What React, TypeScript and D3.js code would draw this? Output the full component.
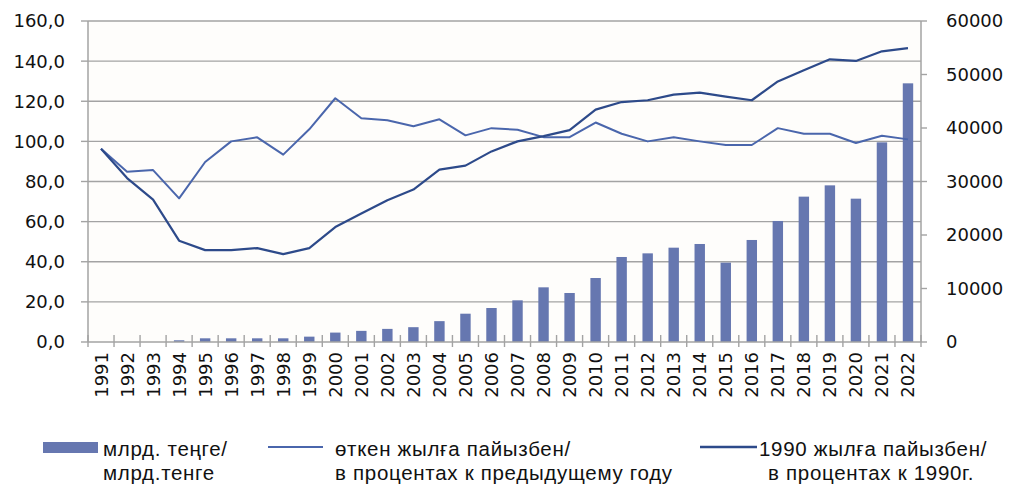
import React from "react";
import * as d3 from "d3";

const years = [
  "1991","1992","1993","1994","1995","1996","1997","1998","1999","2000",
  "2001","2002","2003","2004","2005","2006","2007","2008","2009","2010",
  "2011","2012","2013","2014","2015","2016","2017","2018","2019","2020",
  "2021","2022",
];

// bars: млрд. теңге (right axis)
const volume = [
  0, 0, 0, 320, 690, 690, 690, 690, 1000, 1760,
  2080, 2450, 2770, 3900, 5290, 6355, 7790, 10220, 9160, 11960,
  15890, 16570, 17630, 18320, 14830, 19070, 22620, 27170, 29280, 26790,
  37320, 48350,
];

// line: в процентах к предыдущему году (left axis)
const prevYear = [
  96.3, 84.9, 85.7, 71.6, 89.7, 100.0, 102.0, 93.4, 106.0, 121.5,
  111.5, 110.5, 107.5, 111.0, 103.0, 106.6, 105.8, 102.1, 102.1, 109.4,
  103.8, 100.0, 102.0, 100.0, 98.2, 98.2, 106.6, 103.8, 103.8, 99.2,
  102.8, 101.0,
];

// line: в процентах к 1990г. (left axis)
const to1990 = [
  96.3, 81.7, 71.0, 50.5, 45.8, 45.8, 46.8, 43.8, 46.8, 57.3,
  64.0, 70.7, 76.0, 85.9, 87.9, 95.0, 100.0, 102.6, 105.6, 115.8,
  119.6, 120.5, 123.3, 124.3, 122.3, 120.5, 129.9, 135.5, 140.9, 140.1,
  144.9, 146.5,
];

const leftTicks = [0, 20, 40, 60, 80, 100, 120, 140, 160];
const rightTicks = [0, 10000, 20000, 30000, 40000, 50000, 60000];

const legendBar = ["млрд. теңге/", "млрд.тенге"];
const legendPrev = ["өткен жылға пайызбен/", "в процентах к предыдущему году"];
const legend1990 = ["1990 жылға пайызбен/", "в процентах к 1990г."];

const W = 1009;
const H = 487;
const X0 = 88;
const X1 = 921;
const Y0 = 342;
const Y1 = 21;

const BAR = "#6677B0";
const LINE_A = "#4A66AC";
const LINE_B = "#2D4A8A";
const GRID = "#A3A3A3";
const AXIS_FONT = "'DejaVu Sans', Verdana, sans-serif";
const LEG_FONT = "'Liberation Sans', Arial, sans-serif";
const LEG_SIZE = 20.5;
const LEG_SPACING = 0.7;

export default function App() {
  const x = d3.scaleBand<string>().domain(years).range([X0, X1]).padding(0);
  const bw = x.bandwidth();
  const yL = d3.scaleLinear().domain([0, 160]).range([Y0, Y1]);
  const yR = d3.scaleLinear().domain([0, 60000]).range([Y0, Y1]);
  const cx = (y: string) => (x(y) as number) + bw / 2;

  const lineL = d3
    .line<number>()
    .x((_, i) => cx(years[i]))
    .y((v) => yL(v));

  const barW = bw * 0.4;
  const fmtL = (v: number) => v.toFixed(1).replace(".", ",");

  return (
    <svg
      width={W}
      height={H}
      style={{ position: "absolute", left: 0, top: 0, background: "#fff" }}
    >
      <rect x={X0} y={Y1} width={X1 - X0} height={Y0 - Y1} fill="#FEFDFB" />
      {/* gridlines */}
      {leftTicks.slice(1).map((t) => (
        <line key={"g" + t} x1={X0} x2={X1} y1={yL(t)} y2={yL(t)} stroke={GRID} strokeWidth={1.4} />
      ))}
      {/* bars */}
      {volume.map((v, i) => (
        <rect
          key={"b" + i}
          x={cx(years[i]) - barW / 2}
          y={yR(v)}
          width={barW}
          height={Y0 - yR(v)}
          fill={BAR}
        />
      ))}
      {/* lines */}
      <path d={lineL(prevYear) as string} fill="none" stroke={LINE_A} strokeWidth={2} strokeLinejoin="round" />
      <path d={lineL(to1990) as string} fill="none" stroke={LINE_B} strokeWidth={2.2} strokeLinejoin="round" />
      {/* axes */}
      <line x1={X0} x2={X0} y1={Y1} y2={Y0} stroke={GRID} strokeWidth={1.5} />
      <line x1={X1} x2={X1} y1={Y1} y2={Y0} stroke={GRID} strokeWidth={1.5} />
      <line x1={X0} x2={X1} y1={Y0} y2={Y0} stroke={GRID} strokeWidth={1.5} />
      {leftTicks.map((t) => (
        <g key={"lt" + t}>
          <line x1={X0 - 7} x2={X0} y1={yL(t)} y2={yL(t)} stroke={GRID} strokeWidth={1.4} />
          <text x={65} y={yL(t)} dy="0.36em" textAnchor="end" fontFamily={AXIS_FONT} fontSize={18} fill="#111">
            {fmtL(t)}
          </text>
        </g>
      ))}
      {rightTicks.map((t) => (
        <g key={"rt" + t}>
          <line x1={X1} x2={X1 + 6} y1={yR(t)} y2={yR(t)} stroke={GRID} strokeWidth={1.4} />
          <text x={946} y={yR(t)} dy="0.36em" textAnchor="start" fontFamily={AXIS_FONT} fontSize={18} fill="#111">
            {t}
          </text>
        </g>
      ))}
      {years.map((y, i) => (
        <line
          key={"xt" + i}
          x1={(x(y) as number) + bw}
          x2={(x(y) as number) + bw}
          y1={Y0 - 7}
          y2={Y0 + 5}
          stroke={GRID}
          strokeWidth={1.4}
        />
      ))}
      <line x1={X0} x2={X0} y1={Y0 - 7} y2={Y0 + 5} stroke={GRID} strokeWidth={1.4} />
      {years.map((y) => (
        <text
          key={"xl" + y}
          transform={`translate(${cx(y)},${352}) rotate(-90)`}
          dy="0.36em"
          textAnchor="end"
          fontFamily={AXIS_FONT}
          fontSize={18}
          fill="#111"
        >
          {y}
        </text>
      ))}
      {/* legend */}
      <rect x={43} y={442} width={55} height={11} fill={BAR} />
      {legendBar.map((s, i) => (
        <text key={"lb" + i} x={103} y={456 + i * 24} fontFamily={LEG_FONT} fontSize={LEG_SIZE} letterSpacing={LEG_SPACING} fill="#111">
          {s}
        </text>
      ))}
      <line x1={268} x2={323} y1={447} y2={447} stroke={LINE_A} strokeWidth={2} />
      {legendPrev.map((s, i) => (
        <text key={"lp" + i} x={335} y={456 + i * 24} fontFamily={LEG_FONT} fontSize={LEG_SIZE} letterSpacing={LEG_SPACING} fill="#111">
          {s}
        </text>
      ))}
      <line x1={700} x2={757} y1={447} y2={447} stroke={LINE_B} strokeWidth={2.4} />
      {legend1990.map((s, i) => (
        <text key={"l9" + i} x={i === 0 ? 759 : 768} y={456 + i * 24} fontFamily={LEG_FONT} fontSize={LEG_SIZE} letterSpacing={LEG_SPACING} fill="#111">
          {s}
        </text>
      ))}
    </svg>
  );
}
